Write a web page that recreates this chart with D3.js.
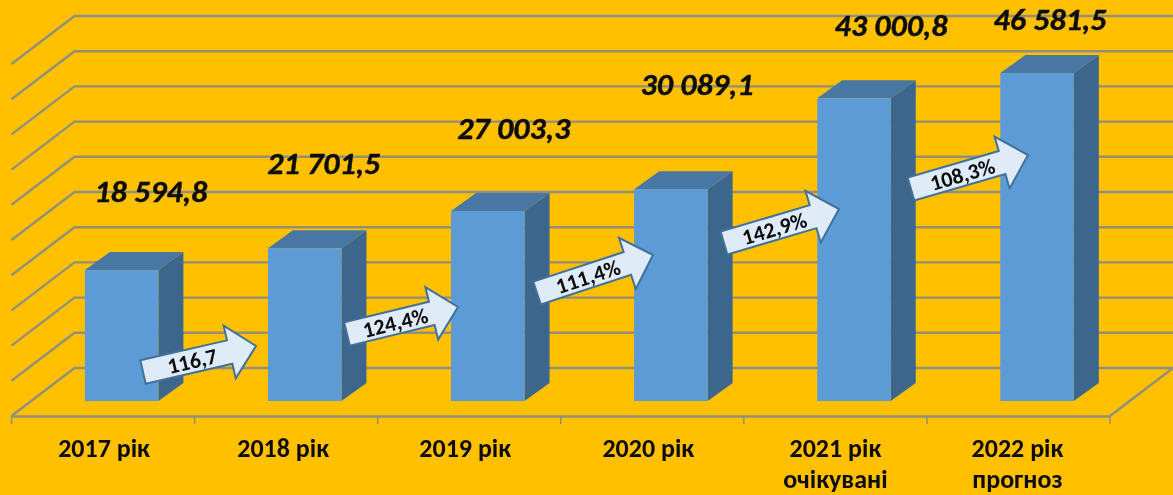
<!doctype html>
<html>
<head>
<meta charset="UTF-8">
<title>Chart</title>
<script src="https://d3js.org/d3.v7.min.js"></script>
<style>
  html, body { margin: 0; padding: 0; background: #FFC000; }
  svg { display: block; }
  text { font-family: Carlito, Lato, "Open Sans", sans-serif; fill: #0b0b0b; }
</style>
</head>
<body>
<script>
var categories = ["2017 рік", "2018 рік", "2019 рік", "2020 рік", "2021 рік", "2022 рік"];
var subLabels = ["", "", "", "", "очікувані", "прогноз"];
var values = [18594.8, 21701.5, 27003.3, 30089.1, 43000.8, 46581.5];
var valueLabels = ["18 594,8", "21 701,5", "27 003,3", "30 089,1", "43 000,8", "46 581,5"];
var growthLabels = ["116,7", "124,4%", "111,4%", "142,9%", "108,3%"];
var gridTicks = [0, 5000, 10000, 15000, 20000, 25000, 30000, 35000, 40000, 45000, 50000];

var w = 1173, h = 495;
var left = 11.5, right = 1110, floorY = 416;
var backDx = 63, backDy = 48;   // floor depth
var barGap = 15;                // bar front sits this far behind the front edge
var barW = 73.5, barDx = 25, barDy = 18;
var gridColor = "#938f7a";

var svg = d3.select("body").append("svg").attr("width", w).attr("height", h);

var x = d3.scaleBand().domain(categories).range([left, right]);
var y = d3.scaleLinear().domain([0, 50000]).range([floorY - backDy, 16]);
var frontY = function (v) { return y(v) + backDy - barGap; };
var barX = function (c) { return x(c) + x.bandwidth() / 2 - barW / 2 + 18.6; };

svg.append("rect").attr("width", w).attr("height", h).attr("fill", "#FFC000");

var defs = svg.append("defs");
var blur = defs.append("filter").attr("id", "soft");
blur.append("feGaussianBlur").attr("stdDeviation", 0.5);

var chart = svg.append("g").attr("filter", "url(#soft)");

// back wall and side wall grid
chart.append("g").selectAll("path").data(gridTicks).enter().append("path")
  .attr("d", function (d) {
    var p = d3.path();
    p.moveTo(left, y(d) + backDy);
    p.lineTo(left + backDx, y(d));
    p.lineTo(w, y(d));
    return p.toString();
  })
  .attr("fill", "none").attr("stroke", gridColor).attr("stroke-width", 2.4);

// right floor edge
chart.append("line")
  .attr("x1", right).attr("y1", floorY).attr("x2", w).attr("y2", y(0))
  .attr("stroke", gridColor).attr("stroke-width", 2.4);

// category axis
var axis = d3.axisBottom(x).tickValues([]).tickSize(0).tickFormat("");
var axisG = chart.append("g").attr("transform", "translate(0," + floorY + ")").call(axis);
axisG.select(".domain").attr("stroke", gridColor).attr("stroke-width", 2.4);
axisG.selectAll("line.sep")
  .data(d3.range(categories.length + 1)).enter().append("line").attr("class", "sep")
  .attr("x1", function (i) { return left + i * x.bandwidth(); })
  .attr("x2", function (i) { return left + i * x.bandwidth(); })
  .attr("y1", 0).attr("y2", 8)
  .attr("stroke", gridColor).attr("stroke-width", 1.5);

// bars
var bars = chart.append("g").selectAll("g").data(values).enter().append("g");
bars.append("path").attr("fill", "#3d668c")
  .attr("d", function (d, i) {
    var x0 = barX(categories[i]) + barW, t = frontY(d), b = frontY(0);
    return "M" + x0 + "," + t + "L" + (x0 + barDx) + "," + (t - barDy) +
      "L" + (x0 + barDx) + "," + (b - barDy) + "L" + x0 + "," + b + "Z";
  });
bars.append("path").attr("fill", "#4877a3")
  .attr("d", function (d, i) {
    var x0 = barX(categories[i]), t = frontY(d);
    return "M" + x0 + "," + t + "L" + (x0 + barDx) + "," + (t - barDy) +
      "L" + (x0 + barW + barDx) + "," + (t - barDy) + "L" + (x0 + barW) + "," + t + "Z";
  });
bars.append("rect").attr("fill", "#5b9bd5")
  .attr("x", function (d, i) { return barX(categories[i]); })
  .attr("y", function (d) { return frontY(d); })
  .attr("width", barW)
  .attr("height", function (d) { return frontY(0) - frontY(d); });

// value labels sit freely above the bars, hand placed
var labelShift = [[29, 68], [19, 74], [26, 72], [26, 94], [37, 62], [13, 43]];
chart.append("g").selectAll("text").data(values).enter().append("text")
  .attr("text-anchor", "middle")
  .attr("x", function (d, i) { return barX(categories[i]) + barW / 2 + labelShift[i][0]; })
  .attr("y", function (d, i) { return frontY(d) - labelShift[i][1]; })
  .attr("font-size", 30).attr("font-weight", "bold").attr("font-style", "italic")
  .attr("stroke", "#0b0b0b").attr("stroke-width", 0.4)
  .attr("textLength", 113).attr("lengthAdjust", "spacingAndGlyphs")
  .text(function (d, i) { return valueLabels[i]; });

// category labels, nudged by hand to where the original has them
var catNudge = [1, -3, -4, -4, 0, -1];
var catX = function (d, i) { return x(d) + x.bandwidth() / 2 + catNudge[i]; };
var catText = chart.append("g").selectAll("text").data(categories).enter().append("text")
  .attr("text-anchor", "middle")
  .attr("x", catX)
  .attr("y", 457)
  .attr("font-size", 26).attr("font-weight", 900);
catText.append("tspan").text(function (d) { return d; });
catText.append("tspan")
  .attr("x", catX)
  .attr("dy", 31)
  .text(function (d, i) { return subLabels[i]; });

// growth arrows: tail centre -> tip, hand placed
var arrowPos = [
  [143, 372, 256, 346],
  [347, 334, 458, 307],
  [537, 293, 653, 255],
  [724, 243, 839, 209],
  [911, 189, 1028, 155]
];
var arrows = chart.append("g").selectAll("g").data(growthLabels).enter().append("g")
  .attr("transform", function (d, i) {
    var a = arrowPos[i];
    return "translate(" + a[0] + "," + a[1] + ") rotate(" +
      (Math.atan2(a[3] - a[1], a[2] - a[0]) * 180 / Math.PI) + ")";
  });
arrows.append("path")
  .attr("d", function (d, i) {
    var a = arrowPos[i];
    var L = Math.hypot(a[2] - a[0], a[3] - a[1]);
    var s = 12, hw = 27, hl = 27;
    return "M0," + (-s) + "L" + (L - hl) + "," + (-s) + "L" + (L - hl) + "," + (-hw) +
      "L" + L + ",0L" + (L - hl) + "," + hw + "L" + (L - hl) + "," + s + "L0," + s + "Z";
  })
  .attr("fill", "#dfebf7").attr("stroke", "#41719c").attr("stroke-width", 2);
arrows.append("text")
  .attr("text-anchor", "middle")
  .attr("x", function (d, i) {
    var a = arrowPos[i];
    return (Math.hypot(a[2] - a[0], a[3] - a[1]) - 27) / 2 + 6;
  })
  .attr("y", 8)
  .attr("font-size", 22).attr("font-weight", 700)
  .text(function (d) { return d; });
</script>
</body>
</html>
